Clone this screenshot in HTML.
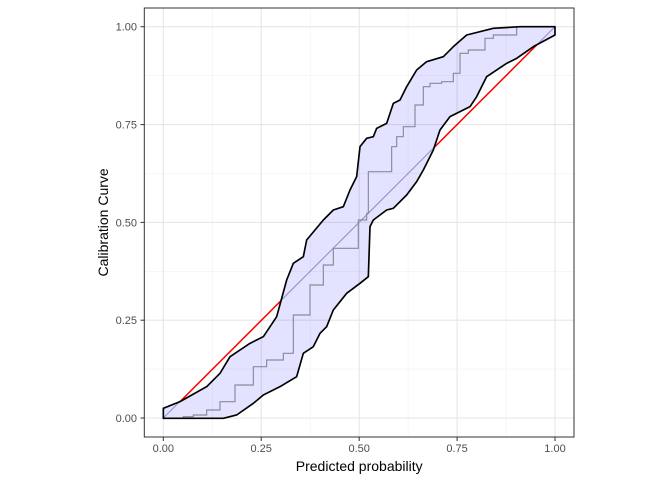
<!DOCTYPE html>
<html><head><style>body{margin:0;background:#fff}svg{display:block}text{font-family:"Liberation Sans",sans-serif}</style></head><body>
<svg width="672" height="480" viewBox="0 0 672 480">
<defs>
<path id="band" d="M70,1225 L120,1205 L200,1160 L240,1120 L270,1070 L330,1030 L370,1010 L410,950 L440,840 L460,790 L490,770 L500,720 L550,660 L580,630 L610,620 L630,570 L650,530 L660,440 L680,415 L700,410 L710,385 L740,370 L760,310 L780,300 L800,260 L830,210 L860,185 L910,170 L940,140 L980,105 L1060,85 L1140,80 L1245,80 L1245,105 L1180,140 L1130,175 L1100,190 L1040,230 L1010,290 L990,320 L930,350 L900,390 L880,450 L850,510 L830,545 L800,585 L760,625 L740,630 L700,660 L690,680 L685,830 L660,850 L620,880 L580,930 L560,980 L540,1000 L520,1040 L490,1060 L470,1130 L420,1160 L370,1185 L340,1210 L290,1245 L250,1255 L70,1255 Z"/>
<g id="grid">
<g stroke="#f0f0f0" stroke-width="0.6">
<line x1="212.3" x2="212.3" y1="8" y2="437"/><line x1="310.2" x2="310.2" y1="8" y2="437"/><line x1="408.1" x2="408.1" y1="8" y2="437"/><line x1="506" x2="506" y1="8" y2="437"/>
<line y1="369.1" y2="369.1" x1="144.3" x2="574"/><line y1="271.3" y2="271.3" x1="144.3" x2="574"/><line y1="173.5" y2="173.5" x1="144.3" x2="574"/><line y1="75.6" y2="75.6" x1="144.3" x2="574"/>
</g>
<g stroke="#e6e6e6" stroke-width="1.1">
<line x1="163.3" x2="163.3" y1="8" y2="437"/><line x1="261.2" x2="261.2" y1="8" y2="437"/><line x1="359.2" x2="359.2" y1="8" y2="437"/><line x1="457.1" x2="457.1" y1="8" y2="437"/><line x1="555" x2="555" y1="8" y2="437"/>
<line y1="418" y2="418" x1="144.3" x2="574"/><line y1="320.2" y2="320.2" x1="144.3" x2="574"/><line y1="222.4" y2="222.4" x1="144.3" x2="574"/><line y1="124.6" y2="124.6" x1="144.3" x2="574"/><line y1="26.7" y2="26.7" x1="144.3" x2="574"/>
</g>
</g>
<clipPath id="bc"><use href="#band" transform="translate(140,0) scale(0.33333)"/></clipPath>
</defs>
<use href="#grid"/>
<g transform="translate(140,0) scale(0.33333)">
<line x1="70" y1="1255" x2="1245" y2="80" stroke="#ff0000" stroke-width="4.5"/>
<use href="#band" fill="#fff"/>
</g>
<g clip-path="url(#bc)"><use href="#grid"/>
<line x1="163.3" y1="418" x2="555" y2="26.7" stroke="#acacc8" stroke-width="1.2"/>
</g>
<g transform="translate(140,0) scale(0.33333)">
<use href="#band" fill="rgba(0,0,255,0.11)"/>
<path d="M70,1255 H130 V1250 H160 V1245 H200 V1230 H240 V1205 H285 V1155 H340 V1100 H380 V1080 H430 V1060 H460 V945 H510 V855 H550 V795 H580 V745 H655 V660 H680 V640 H685 V515 H755 V440 H770 V410 H790 V380 H825 V315 H850 V260 H870 V250 H905 V245 H940 V220 H960 V160 H985 V150 H1035 V115 H1060 V105 H1130 V80 H1245" fill="none" stroke="#8a8a9a" stroke-width="3.5"/>
<use href="#band" fill="none" stroke="#000" stroke-width="5" stroke-linejoin="round"/>
</g>
<rect x="144.3" y="8" width="429.7" height="429" fill="none" stroke="#333" stroke-width="1"/>
<g stroke="#333" stroke-width="1">
<line x1="140.5" x2="144.3" y1="418" y2="418"/><line x1="140.5" x2="144.3" y1="320.2" y2="320.2"/><line x1="140.5" x2="144.3" y1="222.4" y2="222.4"/><line x1="140.5" x2="144.3" y1="124.6" y2="124.6"/><line x1="140.5" x2="144.3" y1="26.7" y2="26.7"/>
<line y1="437" y2="441" x1="163.3" x2="163.3"/><line y1="437" y2="441" x1="261.2" x2="261.2"/><line y1="437" y2="441" x1="359.2" x2="359.2"/><line y1="437" y2="441" x1="457.1" x2="457.1"/><line y1="437" y2="441" x1="555" x2="555"/>
</g>
<g font-size="11" fill="#4d4d4d" text-anchor="end">
<text x="137" y="422">0.00</text><text x="137" y="324.2">0.25</text><text x="137" y="226.4">0.50</text><text x="137" y="128.6">0.75</text><text x="137" y="30.7">1.00</text>
</g>
<g font-size="11" fill="#4d4d4d" text-anchor="middle">
<text x="163.3" y="452">0.00</text><text x="261.2" y="452">0.25</text><text x="359.2" y="452">0.50</text><text x="457.1" y="452">0.75</text><text x="555" y="452">1.00</text>
</g>
<text x="359.2" y="471" font-size="14" text-anchor="middle" fill="#000">Predicted probability</text>
<text transform="translate(108,222.4) rotate(-90)" font-size="14" text-anchor="middle" fill="#000">Calibration Curve</text>
</svg>
</body></html>
